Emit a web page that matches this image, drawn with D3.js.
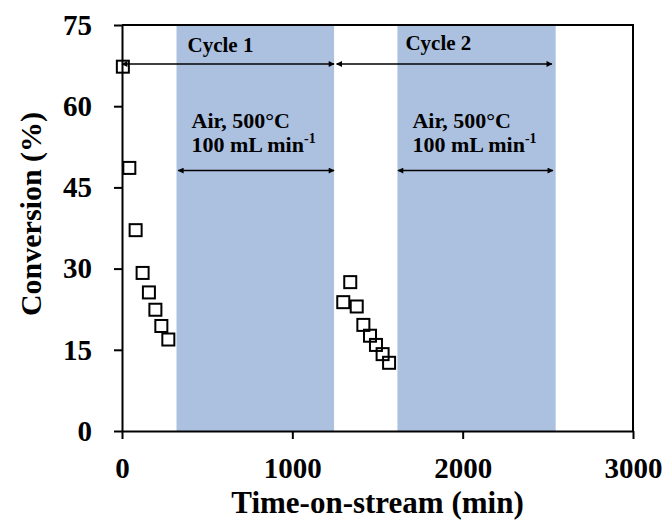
<!DOCTYPE html>
<html>
<head>
<meta charset="utf-8">
<script src="https://cdn.jsdelivr.net/npm/d3@7"></script>
<style>
  html, body { margin: 0; padding: 0; background: #fff; }
  svg { display: block; }
  text { font-family: "Liberation Serif", "Times New Roman", serif; font-weight: bold; fill: #000; }
</style>
</head>
<body>
<svg id="chart" width="672" height="524"></svg>
<script>
// Conversion during the first and second reaction cycles
const cycle1Time = [5, 43, 80, 121, 158, 196, 231, 272];
const cycle1Conv = [67.3, 48.6, 37.1, 29.2, 25.6, 22.4, 19.4, 16.9];
const cycle2Time = [1299, 1340, 1378, 1417, 1456, 1491, 1530, 1568];
const cycle2Conv = [23.8, 27.5, 23.0, 19.6, 17.6, 15.9, 14.2, 12.6];

// Regeneration windows (air, 500 °C), in minutes
const regenStart = [320, 1617];
const regenEnd = [1245, 2546];

// Arrow spans: cycle extent and regeneration extent
const cycleLabels = ["Cycle 1", "Cycle 2"];
const cycleArrowStart = [0, 1260];
const cycleArrowEnd = [1245, 2524];
const cycleArrowLevel = 67.8;
const regenArrowStart = [330, 1620];
const regenArrowEnd = [1245, 2530];
const regenArrowLevel = 48.1;

const xTicks = [0, 1000, 2000, 3000];
const yTicks = [0, 15, 30, 45, 60, 75];

const svg = d3.select("#chart");
const plotLeft = 122, plotRight = 633, plotTop = 25, plotBottom = 431;

const x = d3.scaleLinear().domain([0, 3000]).range([plotLeft, plotRight]);
const y = d3.scaleLinear().domain([0, 75]).range([plotBottom, plotTop]);

// Arrowhead markers
const defs = svg.append("defs");
function addMarker(id, orient) {
  defs.append("marker")
    .attr("id", id)
    .attr("viewBox", "0 0 10 10")
    .attr("refX", 9).attr("refY", 5)
    .attr("markerWidth", 7).attr("markerHeight", 6)
    .attr("markerUnits", "userSpaceOnUse")
    .attr("orient", orient)
    .append("path")
    .attr("d", "M0,0 L10,5 L0,10 Z")
    .attr("fill", "#000");
}
addMarker("head", "auto");
addMarker("tail", "auto-start-reverse");

// Shaded regeneration windows
svg.append("g").selectAll("rect")
  .data(regenStart.map((s, i) => ({ s, e: regenEnd[i] })))
  .join("rect")
  .attr("x", d => x(d.s))
  .attr("y", y(75))
  .attr("width", d => x(d.e) - x(d.s))
  .attr("height", y(0) - y(75))
  .attr("fill", "#acc1e0");

// Double-headed arrows
function arrows(starts, ends, level) {
  svg.append("g").selectAll("line")
    .data(starts.map((s, i) => ({ s, e: ends[i] })))
    .join("line")
    .attr("x1", d => x(d.s)).attr("x2", d => x(d.e))
    .attr("y1", y(level)).attr("y2", y(level))
    .attr("stroke", "#000").attr("stroke-width", 1.5)
    .attr("marker-start", "url(#tail)")
    .attr("marker-end", "url(#head)");
}
arrows(cycleArrowStart, cycleArrowEnd, cycleArrowLevel);
arrows(regenArrowStart, regenArrowEnd, regenArrowLevel);

// Cycle labels
svg.append("g").selectAll("text")
  .data(cycleLabels)
  .join("text")
  .attr("x", (d, i) => x(regenStart[i]) + [11, 8][i])
  .attr("y", (d, i) => [52, 50][i])
  .attr("font-size", 21)
  .text(d => d);

// Regeneration condition labels
regenStart.forEach((s, i) => {
  const tx = x(s) + 15;
  svg.append("text").attr("x", tx).attr("y", 128).attr("font-size", 22).text("Air, 500°C");
  const t = svg.append("text").attr("x", tx).attr("y", 152).attr("font-size", 22);
  t.append("tspan").text("100 mL min");
  t.append("tspan").attr("font-size", 14).attr("dy", -9).text("-1");
});

// Data markers (open squares)
const pts = cycle1Time.map((t, i) => ({ t, v: cycle1Conv[i] }))
  .concat(cycle2Time.map((t, i) => ({ t, v: cycle2Conv[i] })));
svg.append("g").selectAll("rect")
  .data(pts)
  .join("rect")
  .attr("x", d => x(d.t) - 6)
  .attr("y", d => y(d.v) - 6)
  .attr("width", 12).attr("height", 12)
  .attr("fill", "none")
  .attr("stroke", "#000")
  .attr("stroke-width", 2);

// Axes
const xAxis = svg.append("g")
  .attr("transform", `translate(0,${plotBottom})`)
  .call(d3.axisBottom(x).tickValues(xTicks).tickFormat(d3.format("d")).tickSize(8).tickSizeOuter(0).tickPadding(18));
const yAxis = svg.append("g")
  .attr("transform", `translate(${plotLeft},0)`)
  .call(d3.axisLeft(y).tickValues(yTicks).tickSize(8).tickSizeOuter(0).tickPadding(22));
[xAxis, yAxis].forEach(g => {
  g.select(".domain").attr("stroke", "#000").attr("stroke-width", 2);
  g.selectAll(".tick line").attr("stroke", "#000").attr("stroke-width", 2);
  g.selectAll(".tick text")
    .attr("font-family", "'Liberation Serif', 'Times New Roman', serif")
    .attr("font-weight", "bold")
    .attr("font-size", 29)
    .attr("fill", "#000");
});

// Frame on top and right
svg.append("path")
  .attr("d", `M${plotLeft},${plotTop} H${plotRight} V${plotBottom}`)
  .attr("fill", "none").attr("stroke", "#000").attr("stroke-width", 2);

// Axis titles
svg.append("text")
  .attr("x", (plotLeft + plotRight) / 2).attr("y", 513)
  .attr("text-anchor", "middle").attr("font-size", 31)
  .text("Time-on-stream (min)");
svg.append("text")
  .attr("transform", "translate(41,214) rotate(-90)")
  .attr("text-anchor", "middle").attr("font-size", 30)
  .text("Conversion (%)");
</script>
</body>
</html>
